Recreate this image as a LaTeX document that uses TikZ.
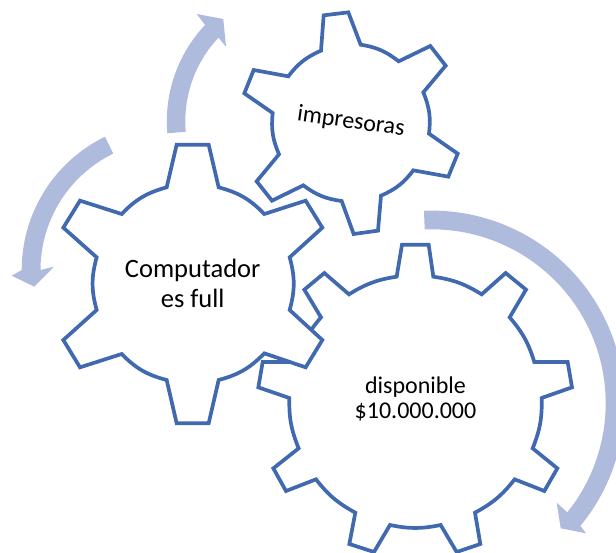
\documentclass[tikz,border=0pt]{standalone}
\usepackage{fontspec}
\setmainfont{Carlito}
\definecolor{gearblue}{HTML}{4069B0}
\definecolor{arrowblue}{HTML}{AEBBDD}
\tikzset{
  gearline/.style={draw=gearblue,line width=3.7pt,fill=white,miter limit=10},
  cyclearrow/.style={fill=arrowblue,draw=none},
  zoomed/.style={x=0.33333pt,y=-0.33333pt},
  lbl/.style={align=center,inner sep=0pt,text=black}
}
\begin{document}
\begin{tikzpicture}[x=1pt,y=-1pt]
\useasboundingbox (0,0) rectangle (616,552);
\clip (0,0) rectangle (616,552);
% arrows
\fill[cyclearrow] plot[domain=175.1:223.3,samples=40] ({307.3+140.5*cos(\x)},{121.3+140.5*sin(\x)})
  -- (196.7,14) -- (223.3,19) -- (226,46.7)
  -- plot[domain=223.3:175.1,samples=40] ({307.3+122*cos(\x)},{121.3+122*sin(\x)}) -- cycle;
\fill[cyclearrow] plot[domain=244:180,samples=40] ({170+148.3*cos(\x)},{270+148.3*sin(\x)})
  -- (11.7,275.7) -- (34.3,286.7) -- (54,266.7)
  -- plot[domain=180:244,samples=40] ({170+129.5*cos(\x)},{270+129.5*sin(\x)}) -- cycle;
\fill[cyclearrow] plot[domain=-92.3:39.5,samples=90] ({431.7+192.7*cos(\x)},{403.3+192.7*sin(\x)})
  -- (586,533.3) -- (560.7,528.3) -- (556.7,502.7)
  -- plot[domain=38.8:-92.3,samples=90] ({431.7+174*cos(\x)},{403.3+174*sin(\x)}) -- cycle;
% gear 2: impresoras
\begin{scope}[zoomed,xshift=160pt]
\draw[gearline] (491,46) -- (565,37) -- (602,134) to[bend left=14.5] (716,184)
  -- (811,138) -- (857,197) -- (790,277) to[bend left=14.5] (807,401)
  -- (893,461) -- (865,530) -- (760,511) to[bend left=14.5] (663,587)
  -- (654,692) -- (581,702) -- (545,603) to[bend left=14.5] (430,556)
  -- (336,602) -- (290,544) -- (357,463) to[bend left=14.5] (338,339)
  -- (253,280) -- (281,210) -- (385,229) to[bend left=14.5] (483,152) -- cycle;
\end{scope}
% gear 3: disponible
\begin{scope}[zoomed,xshift=250pt,yshift=-200pt]
\draw[gearline] (456,134) -- (536,134) -- (550,230) to[bend left=11.6] (695,283)
  -- (767,219) -- (828,269) -- (779,352) to[bend left=11.6] (853,486)
  -- (953,486) -- (966,562) -- (875,594) to[bend left=11.6] (848,745)
  -- (922,805) -- (883,873) -- (794,838) to[bend left=11.6] (675,938)
  -- (691,1032) -- (620,1056) -- (572,975) to[bend left=11.6] (420,975)
  -- (372,1056) -- (298,1032) -- (316,938) to[bend left=11.6] (198,838)
  -- (108,873) -- (70,805) -- (146,745) to[bend left=11.6] (118,594)
  -- (25,562) -- (38,486) -- (139,486) to[bend left=11.6] (213,352)
  -- (163,269) -- (223,219) -- (297,283) to[bend left=11.6] (440,230) -- cycle;
\end{scope}
% gear 1: computadores
\begin{scope}[zoomed,yshift=-130pt]
\draw[gearline] (530,44) -- (626,44) -- (656,172) to[bend left=15.4] (793,252)
  -- (917,212) -- (967,293) -- (869,382) to[bend left=15.4] (869,540)
  -- (967,630) -- (917,712) -- (793,670) to[bend left=15.4] (656,750)
  -- (626,880) -- (530,880) -- (500,750) to[bend left=15.4] (365,672)
  -- (240,712) -- (190,630) -- (290,540) to[bend left=15.4] (290,382)
  -- (190,293) -- (240,212) -- (365,252) to[bend left=15.4] (500,172) -- cycle;
\end{scope}
% labels
\node[lbl,font=\fontsize{26.5}{30}\selectfont] (comp) at (192.7,283.5) {Computador\\es full};
\node[lbl,font=\fontsize{24}{25}\selectfont] (disp) at (415.5,399) {disponible\\\$10.000.000};
\node[lbl,font=\fontsize{24}{25}\selectfont,rotate=-8] (impr) at (351,122) {impresoras};
\end{tikzpicture}
\end{document}
